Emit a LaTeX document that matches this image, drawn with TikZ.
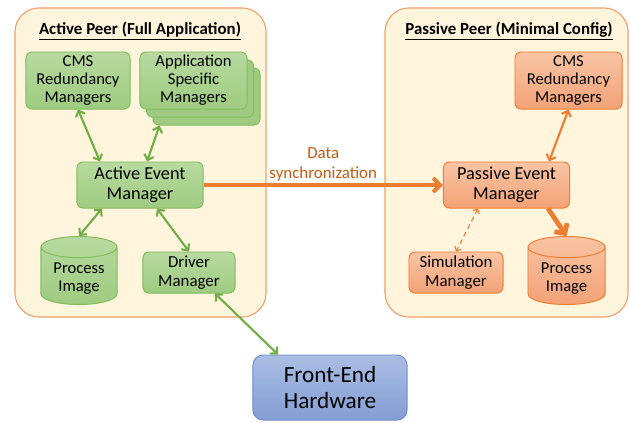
\documentclass[tikz,border=0pt]{standalone}
\usepackage{fontspec}
\setmainfont{Carlito}
\usepackage{xcolor}
\definecolor{peerfill}{RGB}{255, 245, 221}
\definecolor{peerline}{RGB}{241, 160, 105}
\definecolor{greentop}{RGB}{184, 218, 160}
\definecolor{greenbot}{RGB}{158, 203, 128}
\definecolor{greenline}{RGB}{128, 188, 92}
\definecolor{greenarrow}{RGB}{112, 173, 71}
\definecolor{orangetop}{RGB}{249, 196, 164}
\definecolor{orangebot}{RGB}{243, 162, 118}
\definecolor{orangeline}{RGB}{237, 125, 49}
\definecolor{bluetop}{RGB}{170, 189, 228}
\definecolor{bluebot}{RGB}{132, 158, 211}
\definecolor{blueline}{RGB}{112, 142, 206}
\definecolor{synctext}{RGB}{197, 90, 17}
\usepackage{tikz}
\usetikzlibrary{shapes.geometric,arrows.meta,positioning,shadows,calc}

\begin{document}
\begin{tikzpicture}[
    x=0.025cm, y=-0.025cm,
    peer/.style={rectangle, draw=peerline, line width=0.8pt, fill=peerfill, rounded corners=0.6cm},
    peertitle/.style={font=\fontsize{12}{14}\selectfont\bfseries},
    module/.style={rectangle, rounded corners=0.15cm, line width=0.7pt, align=center, inner sep=1pt, font=\fontsize{11.8}{12.8}\selectfont},
    greenmod/.style={module, draw=greenline, top color=greentop, bottom color=greenbot},
    orangemod/.style={module, draw=orangeline, top color=orangetop, bottom color=orangebot},
    eventmgr/.style={minimum width=3.15cm, minimum height=1.15cm, font=\fontsize{13}{14.2}\selectfont},
    store/.style={cylinder, shape border rotate=90, aspect=0.35, anchor=shape center, align=center, line width=0.7pt, font=\fontsize{11.8}{12.8}\selectfont},
    link/.style={{Straight Barb[length=3.5pt,width=7pt]}-{Straight Barb[length=3.5pt,width=7pt]}, line width=1.5pt, line cap=round, color=greenarrow},
    plink/.style={link, color=orangeline},
    synclink/.style={-{Straight Barb[length=5pt,width=10pt]}, line width=2.8pt, color=orangeline}
]
\useasboundingbox (0,0) rectangle (630,422);

% the two peers
\node[peer, minimum width=6.275cm, minimum height=7.725cm] (active) at (140.5,162.5) {};
\node[peer, minimum width=6.075cm, minimum height=7.725cm] (passive) at (506.5,162.5) {};
\node[peertitle] (activetitle) at (140,31) {\underline{Active Peer (Full Application)}};
\node[peertitle] (passivetitle) at (509,31) {\underline{Passive Peer (Minimal Config)}};

% active side
\node[greenmod, minimum width=2.6cm, minimum height=1.425cm] (cmsA) at (78,80.5) {CMS\\Redundancy\\Managers};
\node[greenmod, minimum width=2.675cm, minimum height=1.425cm,
      copy shadow={shadow xshift=0.325cm, shadow yshift=-0.4cm, draw=greenline, fill=greenbot},
      copy shadow={shadow xshift=0.165cm, shadow yshift=-0.2cm, draw=greenline, fill=greenbot}]
      (appA) at (193.5,80.5) {Application\\Specific\\Managers};
\node[greenmod, eventmgr] (aemA) at (140,185) {Active Event\\Manager};
\node[store, draw=greenline, top color=greentop, bottom color=greenbot,
      minimum width=1.9cm, minimum height=1.4cm] (procA) at (79,270.5) {Process\\Image};
\node[greenmod, minimum width=2.3cm, minimum height=1.025cm, font=\fontsize{12}{13.4}\selectfont] (drvA) at (189,272.5) {Driver\\Manager};

% passive side
\node[orangemod, minimum width=2.675cm, minimum height=1.425cm] (cmsP) at (568.5,80.5) {CMS\\Redundancy\\Managers};
\node[orangemod, eventmgr] (pem) at (506.5,185) {Passive Event\\Manager};
\node[orangemod, minimum width=2.35cm, minimum height=1.025cm, font=\fontsize{12}{13.4}\selectfont] (simP) at (456,272.5) {Simulation\\Manager};
\node[store, draw=orangeline, top color=orangetop, bottom color=orangebot,
      minimum width=1.925cm, minimum height=1.4cm] (procP) at (566.5,270.5) {Process\\Image};

% hardware
\node[module, draw=blueline, top color=bluetop, bottom color=bluebot, rounded corners=0.25cm,
      minimum width=3.85cm, minimum height=1.625cm, font=\fontsize{16.5}{19}\selectfont] (feh) at (330,387.5) {Front-End\\Hardware};

% connectors
\draw[link] (cmsA.south) -- ($(aemA.north)+(-40,0)$);
\draw[link] ($(appA.south)+(-34,16)$) -- ($(aemA.north)+(7,0)$);
\draw[link] ($(aemA.south)+(-38,0)$) -- (procA.north);
\draw[link] ($(aemA.south)+(17,0)$) -- (drvA.north);
\draw[link] ($(drvA.south)+(26,0)$) -- ($(feh.north)+(-52,0)$);

\draw[synclink] (aemA.east) -- (pem.west)
    node[midway, above=-2pt, align=center, text=synctext, font=\fontsize{12}{14.2}\selectfont] (synclabel) {Data\\synchronization};

\draw[plink] (cmsP.south) -- ($(pem.north)+(42.5,0)$);
\draw[plink, line width=0.8pt, dashed,
      {Straight Barb[length=2.5pt,width=5pt]}-{Straight Barb[length=2.5pt,width=5pt]}] ($(pem.south)+(-28.5,0)$) -- (simP.north);
\draw[-{Straight Barb[length=5pt,width=11pt]}, line width=3.4pt, color=orangeline] ($(pem.south)+(41.5,0)$) -- (procP.north);

\end{tikzpicture}
\end{document}
